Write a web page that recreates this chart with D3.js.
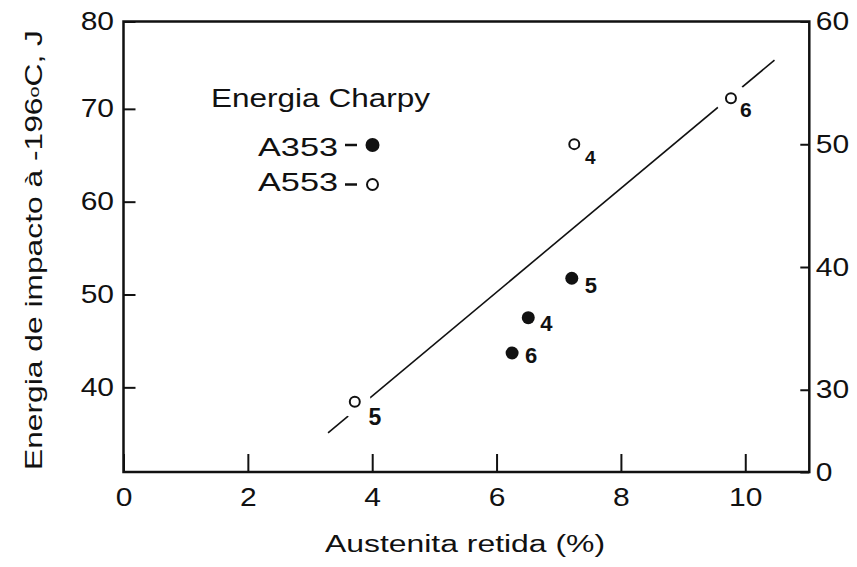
<!DOCTYPE html>
<html>
<head>
<meta charset="utf-8">
<script src="https://cdn.jsdelivr.net/npm/d3@7/dist/d3.min.js"></script>
<style>
  body { margin: 0; background: #fff; }
  svg { display: block; }
  text { font-family: "Liberation Sans", Arial, Helvetica, sans-serif; fill: #111; }
</style>
</head>
<body>
<svg id="chart" width="857" height="567"></svg>
<script>
// Charpy impact energy at -196 °C against retained austenite, steels A353 and A553
const a353Austenite = [6.25, 6.51, 7.21];
const a353Energy    = [43.7, 47.5, 51.75];
const a353Labels    = ["6", "4", "5"];

const a553Austenite = [3.72, 7.25, 9.77];
const a553Energy    = [38.45, 66.2, 71.14];
const a553Labels    = ["5", "4", "6"];

// fitted trend line (two end points)
const trendAustenite = [3.29, 10.47];
const trendEnergy    = [35.1, 75.25];

const xTicks     = [0, 2, 4, 6, 8, 10];
const leftTicks  = [40, 50, 60, 70, 80];
const rightTicks = [0, 30, 40, 50, 60];

const xTitle = "Austenita retida (%)";
const legendTitle = "Energia Charpy";
const seriesNames = ["A353", "A553"];

// ---- layout ----
const W = 857, H = 567;
const frame = { left: 123.5, right: 809.3, top: 21.5, bottom: 472 };
const tickFont = 25, tickStretch = 1.2;

// label placement next to each marker (dx, dy, font size)
const a353LabelPos = [[19, 3, 22], [18, 6, 22], [19, 7, 22]];
const a553LabelPos = [[20, 15, 23], [16, 13, 19], [15, 11, 21]];

const svg = d3.select("#chart");

const x = d3.scaleLinear().domain([0, 11.03]).range([frame.left, frame.right]);
const yLeft = d3.scaleLinear().domain([30.88, 79.41]).range([frame.bottom, frame.top]).clamp(true);
const yRight = d3.scaleLinear().domain([23.3, 60]).range([frame.bottom, frame.top]).clamp(true);

function stretch(sel, factor) {
  sel.each(function () {
    const w = this.getComputedTextLength();
    d3.select(this).attr("textLength", w * factor).attr("lengthAdjust", "spacingAndGlyphs");
  });
}

function styleAxis(g) {
  g.select(".domain").remove();
  g.attr("font-size", tickFont).attr("font-family", null);
  g.selectAll(".tick line").attr("stroke", "#111").attr("stroke-width", 2);
  stretch(g.selectAll(".tick text"), tickStretch);
}

// bottom axis, ticks pointing inward
svg.append("g")
  .attr("transform", `translate(0,${frame.bottom})`)
  .call(d3.axisBottom(x).tickValues(xTicks).tickFormat(d3.format("d"))
    .tickSizeInner(-18).tickSizeOuter(0).tickPadding(16))
  .call(styleAxis);

// left axis
svg.append("g")
  .attr("transform", `translate(${frame.left},0)`)
  .call(d3.axisLeft(yLeft).tickValues(leftTicks).tickFormat(d3.format("d"))
    .tickSizeInner(-12).tickSizeOuter(0).tickPadding(9.5))
  .call(styleAxis);

// right axis
svg.append("g")
  .attr("transform", `translate(${frame.right},0)`)
  .call(d3.axisRight(yRight).tickValues(rightTicks).tickFormat(d3.format("d"))
    .tickSizeInner(-9).tickSizeOuter(0).tickPadding(6.5))
  .call(styleAxis);

// plot frame
svg.append("rect")
  .attr("x", frame.left).attr("y", frame.top)
  .attr("width", frame.right - frame.left).attr("height", frame.bottom - frame.top)
  .attr("fill", "none").attr("stroke", "#111").attr("stroke-width", 2.5);

// trend line, broken around the open markers that sit on it
const defs = svg.append("defs");
const mask = defs.append("mask").attr("id", "trend-gap").attr("maskUnits", "userSpaceOnUse")
  .attr("x", 0).attr("y", 0).attr("width", W).attr("height", H);
mask.append("rect").attr("width", W).attr("height", H).attr("fill", "#fff");
mask.selectAll("circle").data(a553Austenite).join("circle")
  .attr("cx", (d) => x(d))
  .attr("cy", (d, i) => yLeft(a553Energy[i]))
  .attr("r", 16).attr("fill", "#000");

const trend = d3.line().x((d) => x(d[0])).y((d) => yLeft(d[1]));
svg.append("path")
  .datum(d3.zip(trendAustenite, trendEnergy))
  .attr("d", trend)
  .attr("fill", "none").attr("stroke", "#111").attr("stroke-width", 1.6)
  .attr("mask", "url(#trend-gap)");

// A353 : filled markers
svg.append("g").selectAll("circle").data(a353Austenite).join("circle")
  .attr("cx", (d) => x(d))
  .attr("cy", (d, i) => yLeft(a353Energy[i]))
  .attr("r", 6.5).attr("fill", "#111");

// A553 : open markers
svg.append("g").selectAll("circle").data(a553Austenite).join("circle")
  .attr("cx", (d) => x(d))
  .attr("cy", (d, i) => yLeft(a553Energy[i]))
  .attr("r", 5).attr("fill", "#fff").attr("stroke", "#111").attr("stroke-width", 2);

// marker labels
function markerLabels(xs, ys, labels, pos) {
  svg.append("g").selectAll("text").data(labels).join("text")
    .attr("x", (d, i) => x(xs[i]) + pos[i][0])
    .attr("y", (d, i) => yLeft(ys[i]) + pos[i][1])
    .attr("font-size", (d, i) => pos[i][2])
    .attr("font-weight", "bold")
    .attr("text-anchor", "middle")
    .attr("dominant-baseline", "central")
    .text((d) => d);
}
markerLabels(a353Austenite, a353Energy, a353Labels, a353LabelPos);
markerLabels(a553Austenite, a553Energy, a553Labels, a553LabelPos);

// legend
const legend = svg.append("g");
legend.append("text")
  .attr("x", 211).attr("y", 106.5).attr("font-size", 26)
  .attr("textLength", 219).attr("lengthAdjust", "spacingAndGlyphs")
  .text(legendTitle);

const rows = [
  { name: seriesNames[0], base: 156, cy: 145, filled: true },
  { name: seriesNames[1], base: 190.5, cy: 184.5, filled: false }
];
rows.forEach((r) => {
  legend.append("text")
    .attr("x", 258).attr("y", r.base).attr("font-size", 25)
    .attr("textLength", 80).attr("lengthAdjust", "spacingAndGlyphs")
    .text(r.name);
  legend.append("line")
    .attr("x1", 345).attr("x2", 357).attr("y1", r.cy).attr("y2", r.cy)
    .attr("stroke", "#111").attr("stroke-width", 2.5);
  legend.append("circle")
    .attr("cx", 372.5).attr("cy", r.cy)
    .attr("r", r.filled ? 7 : 5.5)
    .attr("fill", r.filled ? "#111" : "#fff")
    .attr("stroke", "#111").attr("stroke-width", r.filled ? 0 : 2);
});

// axis titles
svg.append("text")
  .attr("x", 465).attr("y", 551.5).attr("font-size", 23)
  .attr("text-anchor", "middle")
  .attr("textLength", 280).attr("lengthAdjust", "spacingAndGlyphs")
  .text(xTitle);

const yTitle = svg.append("text")
  .attr("transform", "translate(42,250) rotate(-90)")
  .attr("font-size", 24)
  .attr("text-anchor", "middle")
  .attr("textLength", 440).attr("lengthAdjust", "spacingAndGlyphs");
yTitle.append("tspan").text("Energia de impacto à -196");
yTitle.append("tspan").attr("font-size", 15).attr("dy", -3).text("o");
yTitle.append("tspan").attr("dy", 3).text("C, J");
</script>
</body>
</html>
